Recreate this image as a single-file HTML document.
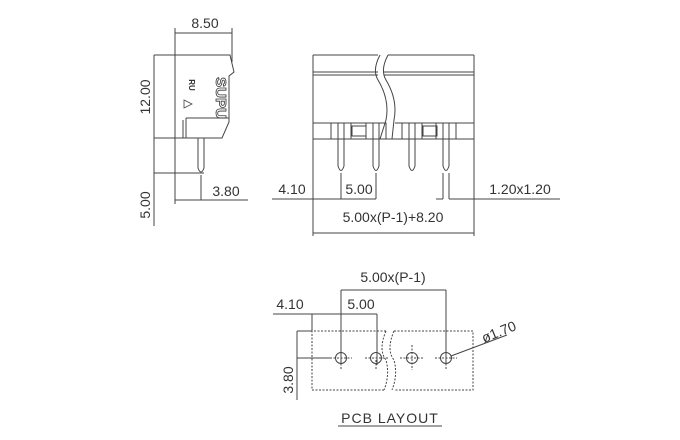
<!DOCTYPE html>
<html><head><meta charset="utf-8"><style>
html,body{margin:0;padding:0;background:#fff;}
svg{display:block}
text{font-family:"Liberation Sans",sans-serif;font-size:14px;fill:#333;}
</style></head><body>
<svg width="680" height="440" viewBox="0 0 680 440" xmlns="http://www.w3.org/2000/svg">
<g stroke="#444" stroke-width="1" fill="none">
<!-- side view -->
<line x1="175" y1="33" x2="232" y2="33"/>
<line x1="175" y1="28" x2="175" y2="204"/>
<line x1="232" y1="28" x2="232" y2="62"/>
<path d="M175 55 L230 55 L234 72 L229 76 L229 122 L222 138 L175 138"/>
<line x1="183" y1="120" x2="183" y2="138"/>
<line x1="186" y1="118" x2="186" y2="138"/>
<line x1="186" y1="118" x2="229" y2="118"/>
<line x1="154" y1="55" x2="175" y2="55"/>
<line x1="154" y1="138" x2="175" y2="138"/>
<line x1="154" y1="55" x2="154" y2="226"/>
<line x1="154" y1="173" x2="204" y2="173"/>
<path d="M198 138 L198 168 Q201 176 204 168 L204 138"/>
<line x1="201" y1="175" x2="201" y2="200"/>
<line x1="175" y1="200" x2="248" y2="200"/>
<path d="M184 100 L192 104 L184 108 Z" stroke-width="0.8"/>
<!-- front view -->
<line x1="313" y1="55" x2="378" y2="55"/>
<line x1="388" y1="55" x2="474" y2="55"/>
<line x1="313" y1="72" x2="378" y2="72"/>
<line x1="313" y1="75" x2="378" y2="75"/>
<line x1="384" y1="72" x2="474" y2="72"/>
<line x1="384" y1="75" x2="474" y2="75"/>
<path d="M380 55 Q372 70 378 80 Q390 100 386 120"/>
<path d="M388 55 Q380 70 386 80 Q398 100 394 120"/>
<line x1="313" y1="55" x2="313" y2="236"/>
<line x1="474" y1="55" x2="474" y2="236"/>
<line x1="313" y1="123" x2="378" y2="123"/>
<line x1="395" y1="123" x2="474" y2="123"/>
<line x1="313" y1="139" x2="474" y2="139"/>
<path d="M386 120 L380 139 M394 120 L392 139"/>
<g>
<rect x="331" y="123" width="20" height="16"/>
<rect x="352" y="126" width="14" height="10"/>
<rect x="366" y="123" width="20" height="16"/>
<rect x="402" y="123" width="20" height="16"/>
<rect x="423" y="126" width="14" height="10"/>
<rect x="436" y="123" width="20" height="16"/>
</g>
<path d="M338 123 L338 166 Q341 175 344 166 L344 123"/>
<path d="M373 123 L373 166 Q376 175 379 166 L379 123"/>
<path d="M409 123 L409 166 Q412 175 415 166 L415 123"/>
<path d="M443 123 L443 166 Q446 175 449 166 L449 123"/>
<line x1="341" y1="173" x2="341" y2="199"/>
<line x1="376" y1="173" x2="376" y2="199"/>
<line x1="443" y1="173" x2="443" y2="199"/>
<line x1="449" y1="173" x2="449" y2="199"/>
<line x1="272" y1="199" x2="376" y2="199"/>
<line x1="436" y1="199" x2="443" y2="199"/>
<line x1="449" y1="199" x2="560" y2="199"/>
<line x1="313" y1="233" x2="474" y2="233"/>
<!-- PCB -->
<line x1="341" y1="290" x2="446" y2="290"/>
<line x1="341" y1="290" x2="341" y2="365"/>
<line x1="446" y1="290" x2="446" y2="365"/>
<line x1="273" y1="314" x2="377" y2="314"/>
<line x1="377" y1="314" x2="377" y2="365"/>
<line x1="312" y1="314" x2="312" y2="331"/>
<line x1="297" y1="331" x2="297" y2="400"/>
<line x1="297" y1="331" x2="312" y2="331"/>
<line x1="297" y1="358" x2="330" y2="358"/>
<g stroke-dasharray="2,1.5">
<path d="M386 331 L312 331 L312 390 L384 390"/>
<path d="M394 331 L473 331 L473 390 L394 390"/>
<path d="M386 331 Q378 350 386 360 Q390 375 384 390"/>
<path d="M394 331 Q386 350 394 360 Q398 375 392 390"/>
<line x1="330" y1="358" x2="352" y2="358"/>
<line x1="365" y1="358" x2="388" y2="358"/>
<line x1="400" y1="358" x2="423" y2="358"/>
<line x1="435" y1="358" x2="457" y2="358"/>
<line x1="412" y1="345" x2="412" y2="370"/>
<line x1="341" y1="360" x2="341" y2="370"/>
<line x1="376" y1="360" x2="376" y2="370"/>
<line x1="446" y1="360" x2="446" y2="370"/>
</g>
<circle cx="341" cy="358" r="5.5"/>
<circle cx="376" cy="358" r="5.5"/>
<circle cx="412" cy="358" r="5.5"/>
<circle cx="446" cy="358" r="5.5"/>
<line x1="451" y1="356" x2="507" y2="335"/>
<line x1="338" y1="426" x2="442" y2="426"/>
</g>
<text x="205" y="28" text-anchor="middle">8.50</text>
<text x="0" y="0" transform="translate(150 97) rotate(-90)" text-anchor="middle">12.00</text>
<text x="0" y="0" transform="translate(150 205) rotate(-90)" text-anchor="middle">5.00</text>
<text x="226" y="196" text-anchor="middle">3.80</text>
<text x="216" y="98" transform="rotate(90 216 98)" text-anchor="middle" style="font-size:15px;font-weight:bold;fill:#fff;stroke:#333;stroke-width:0.8">SUPU</text>
<text x="189" y="85" transform="rotate(90 189 85)" text-anchor="middle" style="font-size:8px;font-weight:bold">RU</text>
<text x="292" y="194" text-anchor="middle">4.10</text>
<text x="359" y="194" text-anchor="middle">5.00</text>
<text x="520" y="194" text-anchor="middle">1.20x1.20</text>
<text x="393" y="222" text-anchor="middle">5.00x(P-1)+8.20</text>
<text x="393" y="282" text-anchor="middle">5.00x(P-1)</text>
<text x="290" y="309" text-anchor="middle">4.10</text>
<text x="361" y="309" text-anchor="middle">5.00</text>
<text x="0" y="0" transform="translate(293 380) rotate(-90)" text-anchor="middle">3.80</text>
<text x="0" y="0" transform="translate(484 343) rotate(-22)">ø1.70</text>
<text x="390" y="423" text-anchor="middle" style="letter-spacing:1px">PCB LAYOUT</text>
</svg>
</body></html>
